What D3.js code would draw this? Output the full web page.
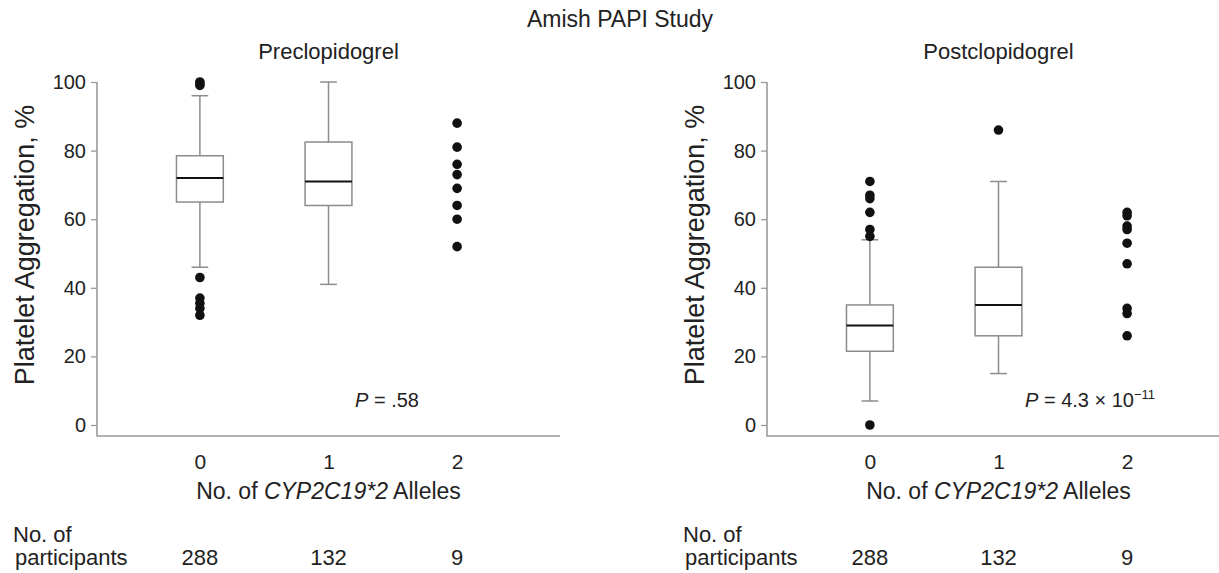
<!DOCTYPE html>
<html>
<head>
<meta charset="utf-8">
<script src="https://cdn.jsdelivr.net/npm/d3@7"></script>
<style>
  body { margin: 0; background: #fff; }
  svg text { font-family: "Liberation Sans", Arial, Helvetica, sans-serif; fill: #222; }
</style>
</head>
<body>
<svg id="chart" width="1219" height="573"></svg>
<script>
// Allele groups on the x axis and group sizes
const alleleCounts = [0, 1, 2];
const participantCounts = [288, 132, 9];
const yTickValues = [0, 20, 40, 60, 80, 100];
const panelTitles = ["Preclopidogrel", "Postclopidogrel"];
const pValueMain = [".58", "4.3 × 10"];
const pValueExp = ["", "−11"];

// Box summaries per allele group: [lower whisker, Q1, median, Q3, upper whisker]
const preBoxStats = [[46, 65, 72, 78.5, 96], [41, 64, 71, 82.5, 100], null];
const postBoxStats = [[7, 21.5, 29, 35, 54], [15, 26, 35, 46, 71], null];

// Individual points shown as dots (outliers, and every carrier of two alleles)
const preDots = [[100, 99.5, 99, 43, 37, 35.5, 34, 32], [], [88, 81, 76, 73, 69, 64, 60, 52]];
const postDots = [[71, 67, 66, 62, 57, 55, 0], [86], [62, 61, 58, 57, 53, 47, 34, 32.5, 26]];

const svg = d3.select("#chart");
const axisColor = "#9a9a9a";
const boxColor = "#8c8c8c";

svg.append("text")
  .attr("x", 620).attr("y", 27)
  .attr("text-anchor", "middle")
  .style("font-size", "23px")
  .text("Amish PAPI Study");

function drawPanel(originX, title, boxes, dots, pMain, pExp) {
  const g = svg.append("g").attr("transform", `translate(${originX},0)`);
  const x = d3.scaleLinear().domain([-0.8, 2.8]).range([97, 560]);
  const y = d3.scaleLinear().domain([0, 100]).range([425, 82]);
  const step = x(1) - x(0);
  const boxW = step * 0.364;
  const capW = step * 0.13;

  // Panel title
  g.append("text")
    .attr("x", x(1)).attr("y", 59)
    .attr("text-anchor", "middle")
    .style("font-size", "22px")
    .text(title);

  // Y axis ticks and labels
  const yAxis = g.append("g")
    .attr("transform", `translate(${x(-0.8)},0)`)
    .call(d3.axisLeft(y).tickValues(yTickValues).tickSize(6).tickPadding(5));
  yAxis.select(".domain").remove();
  yAxis.selectAll(".tick line").attr("stroke", axisColor).attr("stroke-width", 1.3);
  yAxis.selectAll(".tick text")
    .style("font-size", "20px")
    .style("font-family", "'Liberation Sans', Arial, sans-serif")
    .attr("fill", "#2a2a2a");

  // L-shaped frame
  g.append("path")
    .attr("d", `M${x(-0.8)},${y(100)}V436H${x(2.8)}`)
    .attr("fill", "none")
    .attr("stroke", axisColor)
    .attr("stroke-width", 1.6);

  // Category labels along the bottom
  const xAxis = g.append("g")
    .attr("transform", "translate(0,436)")
    .call(d3.axisBottom(x).tickValues(alleleCounts).tickFormat(d3.format("d")).tickSize(0).tickPadding(18));
  xAxis.select(".domain").remove();
  xAxis.selectAll(".tick text")
    .style("font-size", "21px")
    .style("font-family", "'Liberation Sans', Arial, sans-serif")
    .attr("fill", "#222");

  // Y axis title
  g.append("text")
    .attr("transform", `translate(34,245) rotate(-90)`)
    .attr("text-anchor", "middle")
    .style("font-size", "27px")
    .text("Platelet Aggregation, %");

  // X axis title
  const xt = g.append("text")
    .attr("x", x(1)).attr("y", 499)
    .attr("text-anchor", "middle")
    .style("font-size", "23px");
  xt.append("tspan").text("No. of ");
  xt.append("tspan").style("font-style", "italic").text("CYP2C19*2");
  xt.append("tspan").text(" Alleles");

  // Participant counts
  g.append("text").attr("x", 13).attr("y", 542).style("font-size", "22px").text("No. of");
  g.append("text").attr("x", 15).attr("y", 565).style("font-size", "22px").text("participants");
  g.selectAll(".count")
    .data(participantCounts)
    .join("text")
    .attr("class", "count")
    .attr("x", (d, i) => x(alleleCounts[i]))
    .attr("y", 565)
    .attr("text-anchor", "middle")
    .style("font-size", "22px")
    .text(d => d);

  // Box plots
  boxes.forEach((s, i) => {
    if (!s) return;
    const cx = x(alleleCounts[i]);
    const [lo, q1, med, q3, hi] = s;
    const bg = g.append("g");
    bg.append("line").attr("x1", cx).attr("x2", cx).attr("y1", y(hi)).attr("y2", y(q3))
      .attr("stroke", boxColor).attr("stroke-width", 1.5);
    bg.append("line").attr("x1", cx).attr("x2", cx).attr("y1", y(q1)).attr("y2", y(lo))
      .attr("stroke", boxColor).attr("stroke-width", 1.5);
    [lo, hi].forEach(v => {
      bg.append("line").attr("x1", cx - capW / 2).attr("x2", cx + capW / 2)
        .attr("y1", y(v)).attr("y2", y(v))
        .attr("stroke", boxColor).attr("stroke-width", 1.5);
    });
    bg.append("rect")
      .attr("x", cx - boxW / 2).attr("y", y(q3))
      .attr("width", boxW).attr("height", y(q1) - y(q3))
      .attr("fill", "#fff").attr("stroke", boxColor).attr("stroke-width", 1.5);
    bg.append("line").attr("x1", cx - boxW / 2).attr("x2", cx + boxW / 2)
      .attr("y1", y(med)).attr("y2", y(med))
      .attr("stroke", "#111").attr("stroke-width", 2);
  });

  // Dots
  dots.forEach((vals, i) => {
    g.selectAll(null)
      .data(vals)
      .join("circle")
      .attr("cx", x(alleleCounts[i]))
      .attr("cy", d => y(d))
      .attr("r", 4.8)
      .attr("fill", "#111");
  });

  // P value
  const pt = g.append("text").attr("x", 355).attr("y", 407).style("font-size", "20px");
  pt.append("tspan").style("font-style", "italic").text("P");
  pt.append("tspan").text(" = " + pMain);
  if (pExp) {
    pt.append("tspan").attr("dy", -8).style("font-size", "13px").text(pExp);
  }
}

drawPanel(0, panelTitles[0], preBoxStats, preDots, pValueMain[0], pValueExp[0]);
drawPanel(670, panelTitles[1], postBoxStats, postDots, pValueMain[1], pValueExp[1]);
</script>
</body>
</html>
